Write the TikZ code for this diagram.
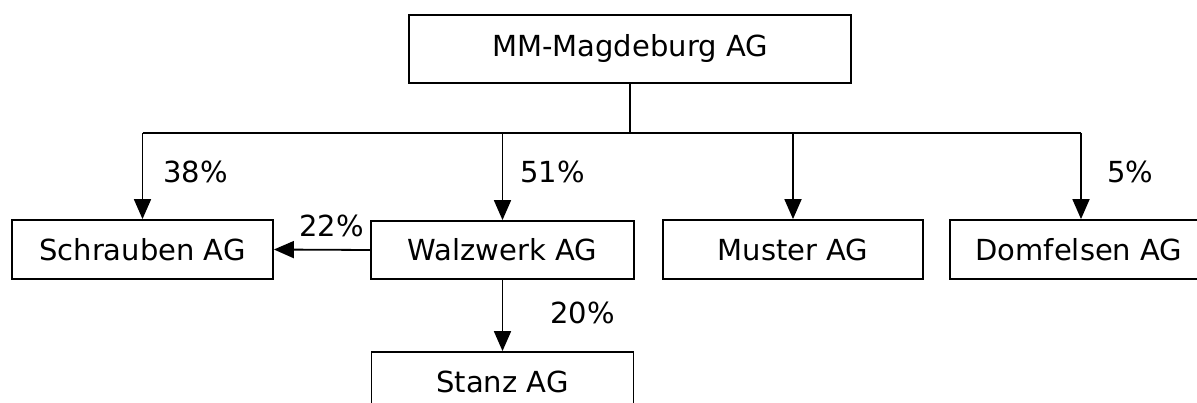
\documentclass[tikz,border=0pt]{standalone}
\usepackage{fontspec}
\setmainfont{DejaVu Sans}
\usetikzlibrary{arrows.meta}
\begin{document}
\begin{tikzpicture}[x=1pt,y=-1pt,
  box/.style={draw=black, line width=1.8pt, rectangle, inner sep=0pt, font=\fontsize{29}{35}\selectfont},
  lbl/.style={anchor=base west, inner sep=0pt, font=\fontsize{29}{35}\selectfont},
  link/.style={draw=black, line width=1.8pt},
  arr/.style={link, -{Triangle[length=20pt,width=17pt]}}]
\useasboundingbox (0,0) rectangle (1197,403);
\clip (0,0) rectangle (1197,403);
\fill[white] (0,0) rectangle (1197,403);
\node[box, minimum width=442pt, minimum height=68pt] (top) at (630,49) {MM-Magdeburg AG};
\node[box, minimum width=261pt, minimum height=59pt] (schr) at (142.5,249.5) {Schrauben AG};
\node[box, minimum width=263pt, minimum height=58pt] (walz) at (502.5,250) {Walzwerk AG};
\node[box, minimum width=260pt, minimum height=59pt] (must) at (793,249.5) {Muster AG};
\node[box, minimum width=258pt, minimum height=59pt] (dom) at (1079,249.5) {Domfelsen AG};
\node[box, minimum width=262pt, minimum height=59pt] (stanz) at (502.5,381.5) {Stanz AG};
\coordinate (j) at (630,133);
\coordinate (l) at (142.5,133);
\coordinate (r) at (1081,133);
\draw[link] (top.south) -- (j);
\draw[link] (l) -- (r);
\draw[arr] (l) -- (schr.north);
\draw[arr] (walz.north |- j) -- (walz.north);
\draw[arr] (must.north |- j) -- (must.north);
\draw[arr] (r) -- (r |- dom.north);
\draw[arr] (walz.west) -- (schr.east);
\draw[arr] (walz.south) -- (stanz.north);
\node[lbl] (p38) at (163,183) {38\%};
\node[lbl] (p51) at (520,183) {51\%};
\node[lbl] (p5) at (1107,183) {5\%};
\node[lbl] (p22) at (299,237) {22\%};
\node[lbl] (p20) at (550,324) {20\%};
\end{tikzpicture}
\end{document}
